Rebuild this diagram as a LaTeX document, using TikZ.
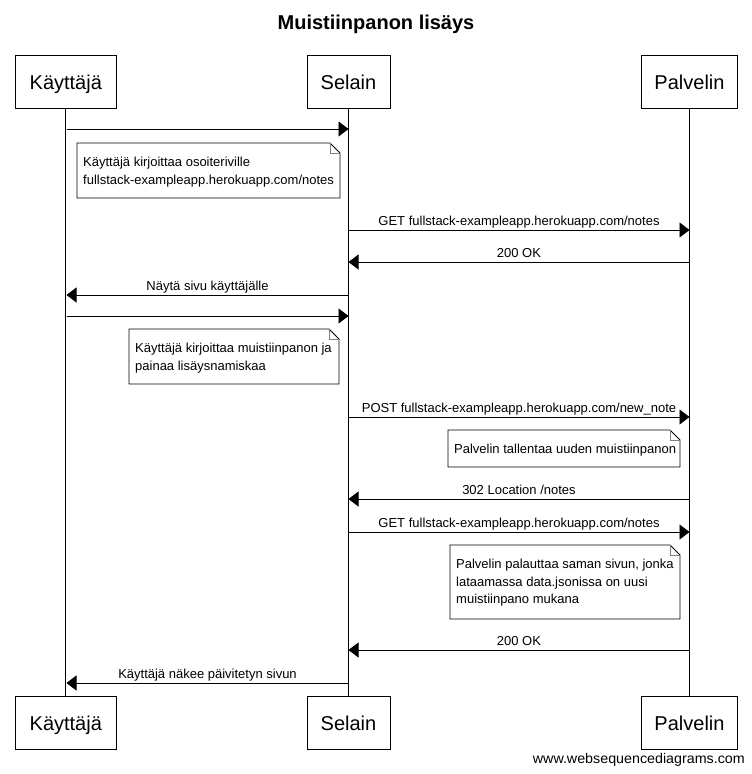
\documentclass[tikz,border=0pt]{standalone}
\usepackage{fontspec}
\setmainfont{Liberation Sans}
\usetikzlibrary{arrows.meta}
\begin{document}
\begin{tikzpicture}[x=1pt,y=-1pt,
  actor/.style={draw=black,line width=1pt,fill=white,minimum width=#1,minimum height=53pt,inner sep=0pt,text height=16pt,text depth=0pt,font=\fontsize{20}{24}\selectfont},
  msg/.style={line width=0.8pt,-{Triangle[length=10pt,width=15pt]}},
  lbl/.style={font=\fontsize{13}{15}\selectfont,inner sep=0pt,anchor=base,yshift=4.5pt},
  notetxt/.style={font=\fontsize{13}{17.5}\selectfont,align=left,inner sep=0pt,anchor=north west},
  lifeline/.style={line width=0.8pt}]
\useasboundingbox (0,0) rectangle (752,774);
\fill[white] (0,0) rectangle (752,774);
% title
\node[font=\bfseries\fontsize{20}{24}\selectfont,inner sep=0pt] (title) at (376,24) {Muistiinpanon lisäys};
% actors
\node[actor=101pt] (kT) at (65.8,81.5) {Käyttäjä};
\node[actor=83pt] (sT) at (348.5,81.5) {Selain};
\node[actor=96pt] (pT) at (689.5,81.5) {Palvelin};
\node[actor=101pt] (kB) at (65.8,722.5) {Käyttäjä};
\node[actor=83pt] (sB) at (348.5,722.5) {Selain};
\node[actor=96pt] (pB) at (689.5,722.5) {Palvelin};
% lifelines
\draw[lifeline] (kT.south) -- (kB.north);
\draw[lifeline] (sT.south) -- (sB.north);
\draw[lifeline] (pT.south) -- (pB.north);
% message coordinates
\foreach \n/\y in {1/129,2/230,3/262,4/295,5/316,6/417,7/499,8/532,9/650,10/683}{
  \coordinate (k\n) at (66.5,\y);
  \coordinate (s\n) at (348.5,\y);
  \coordinate (p\n) at (689.5,\y);
}
\newcommand{\mynote}[5]{% x1 y1 x2 y2 name
  \draw[line width=0.8pt,fill=white] (#1,#2) -- ({#3-10},#2) -- (#3,{#2+10}) -- (#3,#4) -- (#1,#4) -- cycle;
  \draw[line width=0.6pt,draw=gray] ({#3-10},#2) -- ({#3-10},{#2+10}) -- (#3,{#2+10});
  \coordinate (#5) at ({#1+6},{#2+14});
}
% 1
\draw[msg] (k1) -- (s1);
\mynote{77}{143}{340}{198}{n1}
\node[notetxt] (n1t) at (n1) {Käyttäjä kirjoittaa osoiteriville\\fullstack-exampleapp.herokuapp.com/notes};
% 2
\draw[msg] (s2) -- (p2) node[lbl,midway] (l2) {GET fullstack-exampleapp.herokuapp.com/notes};
% 3
\draw[msg] (p3) -- (s3) node[lbl,midway] (l3) {200 OK};
% 4
\draw[msg] (s4) -- (k4) node[lbl,midway] (l4) {Näytä sivu käyttäjälle};
% 5
\draw[msg] (k5) -- (s5);
\mynote{129}{329}{339}{384}{n2}
\node[notetxt] (n2t) at (n2) {Käyttäjä kirjoittaa muistiinpanon ja\\painaa lisäysnamiskaa};
% 6
\draw[msg] (s6) -- (p6) node[lbl,midway] (l6) {POST fullstack-exampleapp.herokuapp.com/new\_note};
\mynote{448}{430}{680}{467}{n3}
\node[notetxt] (n3t) at (n3) {Palvelin tallentaa uuden muistiinpanon};
% 7
\draw[msg] (p7) -- (s7) node[lbl,midway] (l7) {302 Location /notes};
% 8
\draw[msg] (s8) -- (p8) node[lbl,midway] (l8) {GET fullstack-exampleapp.herokuapp.com/notes};
\mynote{450}{545}{680}{619}{n4}
\node[notetxt] (n4t) at (n4) {Palvelin palauttaa saman sivun, jonka\\lataamassa data.jsonissa on uusi\\muistiinpano mukana};
% 9
\draw[msg] (p9) -- (s9) node[lbl,midway] (l9) {200 OK};
% 10
\draw[msg] (s10) -- (k10) node[lbl,midway] (l10) {Käyttäjä näkee päivitetyn sivun};
% watermark
\node[font=\fontsize{14}{16}\selectfont,inner sep=0pt,anchor=east,xscale=1.02] (wm) at (745,760) {www.websequencediagrams.com};
\end{tikzpicture}
\end{document}
